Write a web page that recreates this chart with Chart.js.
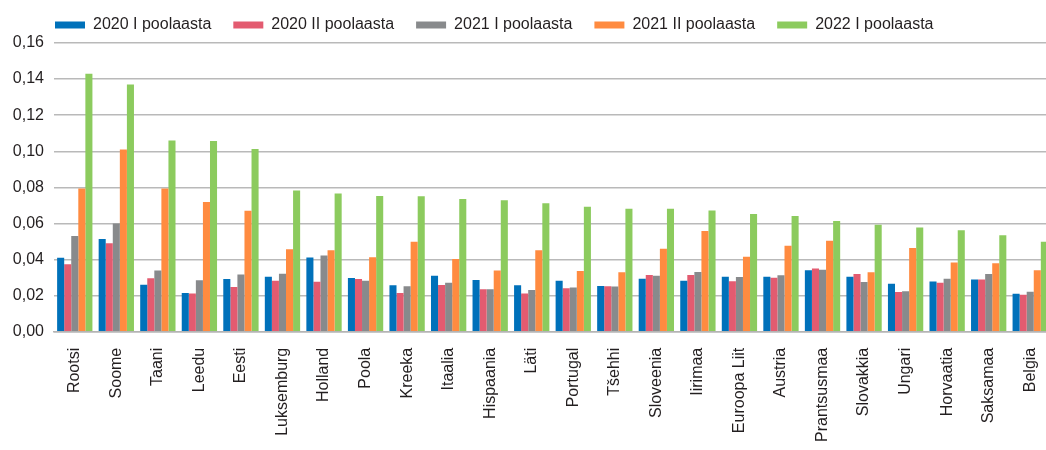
<!DOCTYPE html>
<html lang="et">
<head>
  <meta charset="UTF-8" />
  <title>Poolaastad riigiti</title>
  <script src="https://cdn.jsdelivr.net/npm/chart.js"></script>
  <style>
    html, body {
      margin: 0;
      padding: 0;
      background: #ffffff;
      overflow: hidden;
    }

    /* a touch wider than the window: the last group is cut at the edge */
    .chart-box {
      width: 1051px;
      height: 450px;
    }
  </style>
</head>
<body>

  <div class="chart-box">
    <canvas id="halfChart"></canvas>
  </div>

  <script>
    const countries = ['Rootsi', 'Soome', 'Taani', 'Leedu', 'Eesti', 'Luksemburg', 'Holland', 'Poola',
      'Kreeka', 'Itaalia', 'Hispaania', 'Läti', 'Portugal', 'Tšehhi', 'Sloveenia', 'Iirimaa',
      'Euroopa Liit', 'Austria', 'Prantsusmaa', 'Slovakkia', 'Ungari', 'Horvaatia', 'Saksamaa', 'Belgia'];

    const h2020a = [0.041, 0.0514, 0.026, 0.0215, 0.0292, 0.0304, 0.0411, 0.0298,
      0.0257, 0.031, 0.0287, 0.0257, 0.0283, 0.0254, 0.0294, 0.0282,
      0.0304, 0.0304, 0.0341, 0.0304, 0.0266, 0.0278, 0.0289, 0.021];
    const h2020b = [0.0374, 0.049, 0.0296, 0.0212, 0.0248, 0.0283, 0.0277, 0.0292,
      0.0214, 0.0259, 0.0235, 0.0212, 0.0241, 0.0252, 0.0315, 0.0315,
      0.028, 0.0299, 0.035, 0.032, 0.022, 0.0271, 0.0289, 0.0205];
    const h2021a = [0.053, 0.060, 0.034, 0.0285, 0.0317, 0.0322, 0.0422, 0.0282,
      0.0252, 0.0271, 0.0236, 0.0231, 0.0245, 0.025, 0.031, 0.0331,
      0.0303, 0.0313, 0.0343, 0.0275, 0.0224, 0.0294, 0.032, 0.0222];
    const h2021b = [0.0794, 0.101, 0.0794, 0.0719, 0.067, 0.0457, 0.0451, 0.0413,
      0.0499, 0.0403, 0.034, 0.0451, 0.0336, 0.0329, 0.046, 0.0558,
      0.0416, 0.0476, 0.0504, 0.0329, 0.0464, 0.0383, 0.038, 0.0341];
    const h2022a = [0.143, 0.137, 0.106, 0.1057, 0.1013, 0.0782, 0.0766, 0.0752,
      0.0751, 0.0735, 0.0728, 0.0712, 0.0693, 0.0681, 0.0681, 0.0672,
      0.0653, 0.0642, 0.0614, 0.0593, 0.0577, 0.0562, 0.0534, 0.0499];

    const yTicks = [0, 0.02, 0.04, 0.06, 0.08, 0.10, 0.12, 0.14, 0.16];

    const seriesNames = ['2020 I poolaasta', '2020 II poolaasta', '2021 I poolaasta', '2021 II poolaasta', '2022 I poolaasta'];
    const seriesColors = ['#0071ba', '#e35b70', '#888a8c', '#ff8b40', '#8ccb5e'];
    const seriesValues = [h2020a, h2020b, h2021a, h2021b, h2022a];

    const textColor = '#231f20';
    const fontFamily = "'Liberation Sans', Arial, Helvetica, sans-serif";

    // legend sits in line with the plot's left edge and a bit higher than default
    const legendPlacement = {
      id: 'legendPlacement',
      beforeInit(chart) {
        const baseFit = chart.legend.fit;
        chart.legend.fit = function () {
          baseFit.call(this);
          this.height -= 5;
        };
      },
      afterLayout(chart) {
        const lg = chart.legend;
        lg.left += 20;
        lg.right += 20;
        lg.top -= 5;
        lg.bottom -= 5;
      }
    };

    const ctx = document.getElementById('halfChart').getContext('2d');

    const halfChart = new Chart(ctx, {
      type: 'bar',
      data: {
        labels: countries,
        datasets: seriesNames.map((name, i) => ({
          label: name,
          data: seriesValues[i],
          backgroundColor: seriesColors[i],
          borderWidth: 0,
          barPercentage: 1.0,
          categoryPercentage: 0.85
        }))
      },
      plugins: [legendPlacement],
      options: {
        responsive: true,
        maintainAspectRatio: false,
        animation: false,
        layout: {
          padding: { top: 0, left: 13, right: 0, bottom: 0 }
        },
        plugins: {
          legend: {
            position: 'top',
            align: 'start',
            labels: {
              color: textColor,
              font: { family: fontFamily, size: 16 },
              boxWidth: 30,
              boxHeight: 7,
              padding: 22
            }
          },
          tooltip: { enabled: false }
        },
        scales: {
          x: {
            afterFit: (scale) => {
              scale.paddingLeft = 0;
              scale.paddingRight = 0;
            },
            grid: { display: false },
            border: { display: true, color: '#b4b4b4', width: 1.5 },
            ticks: {
              color: textColor,
              font: { family: fontFamily, size: 16 },
              minRotation: 90,
              maxRotation: 90,
              autoSkip: false,
              padding: 8
            }
          },
          y: {
            min: 0,
            max: 0.16,
            afterBuildTicks: (scale) => {
              scale.ticks = yTicks.map(v => ({ value: v }));
            },
            afterFit: (scale) => {
              scale.width = 41;
            },
            grid: {
              color: '#b9b9b9',
              lineWidth: 1.5,
              drawTicks: false
            },
            border: { display: false },
            ticks: {
              color: textColor,
              font: { family: fontFamily, size: 16 },
              padding: 10,
              callback: (v) => v.toFixed(2).replace('.', ',')
            }
          }
        }
      }
    });
  </script>
</body>
</html>
